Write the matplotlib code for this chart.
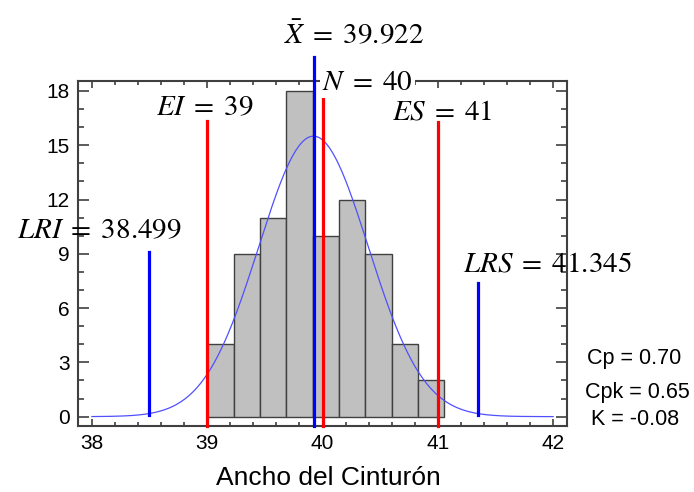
import matplotlib
matplotlib.use("Agg")
import matplotlib.pyplot as plt
import numpy as np

# histogram
bin_start = 39.0
bin_width = 0.2286
counts = [4, 9, 11, 18, 10, 12, 9, 4, 2]

# statistics shown on the chart
mean = 39.922
lri = 38.499
lrs = 41.345
ei = 39
es = 41
n_obs = 40
curve_peak = 15.5
cp_text = ["Cp = 0.70", "Cpk = 0.65", " K = -0.08"]

plt.rcParams['mathtext.fontset'] = 'stix'
plt.rcParams['font.family'] = 'Liberation Sans'

fig = plt.figure(figsize=(6.94, 4.92), dpi=100)
ax = fig.add_axes([0.1124, 0.1348, 0.7046, 0.7006])

edges = bin_start + bin_width * np.arange(len(counts) + 1)
ax.bar(edges[:-1], counts, width=bin_width, align='edge',
       color='#c0c0c0', edgecolor='#404040', linewidth=1.0, zorder=2)

# fitted normal curve (sigma from the 3-sigma limits)
sigma = (lrs - lri) / 6
xs = np.linspace(38, 42, 300)
ax.plot(xs, curve_peak * np.exp(-0.5 * ((xs - mean) / sigma) ** 2),
        color='#5050ff', linewidth=0.9, zorder=4)

ybot = -0.5
ax.plot([lri, lri], [0.1, 9.1], color='blue', linewidth=2.3, zorder=5)
ax.plot([lrs, lrs], [0.1, 7.37], color='blue', linewidth=2.3, zorder=5)
ax.plot([ei, ei], [ybot, 16.35], color='red', linewidth=2.3, zorder=5, clip_on=False)
ax.plot([es, es], [ybot, 16.3], color='red', linewidth=2.3, zorder=5, clip_on=False)
ax.plot([40, 40], [ybot, 18.2], color='red', linewidth=2.3, zorder=5, clip_on=False)
ax.plot([mean, mean], [ybot, 19.85], color='blue', linewidth=2.3, zorder=5, clip_on=False)

fs = 21
ax.text(40.27, 20.65, r'$\bar{X}\;=\;39.922$', fontsize=fs, ha='center', va='baseline')
ax.text(40.39, 18.05, r'$N\;=\;40$', fontsize=fs, ha='center', va='baseline', zorder=6,
        bbox=dict(facecolor='white', edgecolor='none', pad=1.5))
ax.text(38.98, 16.66, r'$EI\;=\;39$', fontsize=fs, ha='center', va='baseline')
ax.text(41.04, 16.43, r'$ES\;=\;41$', fontsize=fs, ha='center', va='baseline')
ax.text(38.07, 9.86, r'$LRI\;=\;38.499$', fontsize=fs, ha='center', va='baseline')
ax.text(41.95, 8.0, r'$LRS\;=\;41.345$', fontsize=fs, ha='center', va='baseline')

ax.set_xlim(37.88, 42.12)
ax.set_ylim(-0.5, 18.55)
ax.set_xticks([38, 39, 40, 41, 42])
ax.set_xticks(np.arange(38, 42.01, 0.2), minor=True)
ax.set_yticks([0, 3, 6, 9, 12, 15, 18])
ax.set_yticks(range(0, 19), minor=True)
ax.tick_params(axis='both', which='both', direction='in', top=True, right=True,
               labelsize=15, color='#404040', width=1.2, pad=6)
ax.tick_params(axis='x', which='major', length=5)
ax.tick_params(axis='x', which='minor', length=3)
ax.tick_params(axis='y', which='major', length=8)
ax.tick_params(axis='y', which='minor', length=4)
for sp in ax.spines.values():
    sp.set_color('#404040')
    sp.set_linewidth(1.5)

# x label placed in figure coords so it sits where the reference has it
fig.text(328 / 694, 0.014, "Ancho del Cinturón", fontsize=19, ha='center', va='baseline')

ys = [0.260, 0.191, 0.136]
xs_txt = [0.846, 0.843, 0.843]
for t, xx, yy in zip(cp_text, xs_txt, ys):
    fig.text(xx, yy, t, fontsize=15.5, va='baseline', ha='left')

fig.savefig("out.png", dpi=100)
